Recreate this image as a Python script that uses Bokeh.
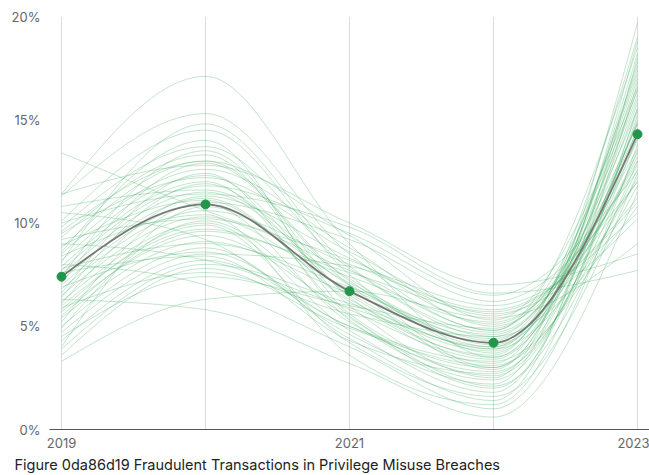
from bokeh.plotting import figure
from bokeh.models import ColumnDataSource, Range1d, FixedTicker, Title
from bokeh.embed import file_html
from bokeh.resources import INLINE

years = [2019, 2020, 2021, 2022, 2023]
mean_values = [7.4, 10.9, 6.7, 4.2, 14.3]
x_tick_years = [2019, 2021, 2023]
y_ticks = [0, 5, 10, 15, 20]
y_tick_labels = ["0%", "5%", "10%", "15%", "20%"]
title_text = "Figure 0da86d19 Fraudulent Transactions in Privilege Misuse Breaches"

series = [
    [13.4, 10.6, 8.2, 5.5, 12.0],
    [11.4, 17.1, 9.0, 3.5, 16.5],
    [11.3, 15.3, 8.5, 4.8, 18.5],
    [10.1, 14.5, 7.5, 3.0, 17.0],
    [9.8, 13.7, 7.8, 4.5, 15.5],
    [9.3, 13.3, 6.0, 2.5, 19.7],
    [8.8, 13.0, 7.2, 4.0, 14.8],
    [8.5, 12.6, 8.8, 5.0, 13.0],
    [8.2, 12.3, 6.5, 3.8, 16.0],
    [7.9, 12.0, 5.5, 2.0, 15.2],
    [7.7, 11.8, 9.5, 6.5, 12.5],
    [7.5, 11.5, 7.0, 4.2, 14.0],
    [7.2, 11.2, 6.2, 3.2, 17.8],
    [7.0, 10.9, 5.2, 2.8, 13.5],
    [6.8, 10.6, 8.0, 5.8, 11.0],
    [6.5, 10.3, 6.8, 4.6, 14.5],
    [6.2, 10.0, 4.8, 1.8, 16.8],
    [6.0, 9.7, 7.4, 5.2, 12.8],
    [5.7, 9.4, 5.8, 3.4, 15.8],
    [5.4, 9.1, 6.6, 4.4, 13.2],
    [5.0, 8.8, 4.4, 1.4, 18.0],
    [4.7, 8.5, 7.9, 6.0, 10.5],
    [4.3, 8.2, 5.0, 2.6, 14.2],
    [3.9, 8.0, 6.1, 3.9, 12.2],
    [3.3, 6.3, 6.7, 5.4, 9.0],
    [11.4, 12.8, 10.0, 7.0, 8.5],
    [10.0, 11.4, 9.8, 6.6, 7.7],
    [9.0, 8.2, 5.9, 4.0, 17.4],
    [8.0, 7.0, 4.0, 1.0, 13.8],
    [6.3, 5.8, 3.2, 0.6, 11.5],
    [10.5, 9.2, 4.6, 2.2, 18.8],
    [9.5, 12.2, 8.6, 5.6, 10.2],
    [5.2, 11.0, 9.2, 6.2, 12.0],
    [4.0, 10.8, 7.1, 4.3, 16.2],
    [8.6, 14.0, 5.6, 3.0, 15.0],
    [7.4, 13.5, 6.4, 3.6, 19.0],
    [6.6, 12.4, 5.3, 2.4, 14.6],
    [5.8, 9.9, 4.2, 1.6, 12.4],
    [9.2, 10.2, 7.7, 4.8, 16.4],
    [7.8, 9.0, 6.9, 4.1, 13.4],
    [6.9, 8.6, 5.0, 3.3, 11.8],
    [4.5, 7.4, 6.0, 4.9, 14.8],
    [10.8, 11.6, 7.3, 3.7, 17.2],
    [8.4, 10.4, 3.6, 1.2, 15.6],
    [6.1, 11.3, 8.3, 5.1, 13.6],
    [5.5, 9.6, 7.6, 5.7, 11.2],
    [7.1, 12.9, 7.0, 2.9, 18.2],
    [8.9, 11.1, 6.3, 3.5, 14.9],
    [3.6, 7.8, 4.9, 3.1, 12.6],
    [9.6, 13.0, 9.4, 5.3, 16.6],
    [4.9, 10.1, 5.4, 2.1, 13.0],
    [7.6, 8.4, 4.3, 2.7, 15.4],
    [6.4, 11.9, 6.6, 3.9, 17.6],
    [5.9, 7.6, 5.6, 4.5, 10.8],
    [8.1, 14.8, 7.9, 4.7, 14.1],
]


def _sign(v):
    return (v > 0) - (v < 0)


def monotone_segments(xs, ys):
    """d3 curveMonotoneX -> list of cubic bezier segments."""
    n = len(xs)
    t = [0.0] * n
    for i in range(1, n - 1):
        h0 = xs[i] - xs[i - 1]
        h1 = xs[i + 1] - xs[i]
        s0 = (ys[i] - ys[i - 1]) / h0
        s1 = (ys[i + 1] - ys[i]) / h1
        pp = (s0 * h1 + s1 * h0) / (h0 + h1)
        t[i] = (_sign(s0) + _sign(s1)) * min(abs(s0), abs(s1), 0.5 * abs(pp))
    h = xs[1] - xs[0]
    t[0] = (3 * (ys[1] - ys[0]) / h - t[1]) / 2
    h = xs[-1] - xs[-2]
    t[-1] = (3 * (ys[-1] - ys[-2]) / h - t[-2]) / 2
    segs = []
    for i in range(n - 1):
        dx = (xs[i + 1] - xs[i]) / 3
        segs.append((xs[i], ys[i], xs[i + 1], ys[i + 1],
                     xs[i] + dx, ys[i] + dx * t[i],
                     xs[i + 1] - dx, ys[i + 1] - dx * t[i + 1]))
    return segs


def seg_source(list_of_series):
    keys = ["x0", "y0", "x1", "y1", "cx0", "cy0", "cx1", "cy1"]
    d = {k: [] for k in keys}
    for s in list_of_series:
        for sg in monotone_segments(years, s):
            for k, v in zip(keys, sg):
                d[k].append(v)
    return ColumnDataSource(d)


FONT = "Inter"
PAD = 1 / 12

p = figure(width=649, height=475, output_backend="svg", toolbar_location=None,
           x_range=Range1d(years[0] - PAD, years[-1] + PAD), y_range=Range1d(0, 20),
           min_border_left=49, min_border_right=0, min_border_top=16, min_border_bottom=10)
p.outline_line_color = None
p.background_fill_color = "white"
p.border_fill_color = "white"

p.bezier(x0="x0", y0="y0", x1="x1", y1="y1", cx0="cx0", cy0="cy0", cx1="cx1", cy1="cy1",
         source=seg_source(series), line_color="#3daa5e", line_alpha=0.3, line_width=1)
p.bezier(x0="x0", y0="y0", x1="x1", y1="y1", cx0="cx0", cy0="cy0", cx1="cx1", cy1="cy1",
         source=seg_source([mean_values]), line_color="#777777", line_width=1.8)
p.scatter(years, mean_values, size=9, fill_color="#23954a", line_color="#23954a")

p.xgrid.ticker = FixedTicker(ticks=years)
p.xgrid.grid_line_color = "#dcdcdc"
p.xgrid.grid_line_width = 1
p.ygrid.grid_line_color = None

p.xaxis.ticker = FixedTicker(ticks=x_tick_years)
p.xaxis.axis_line_color = "#555555"
p.xaxis.axis_line_width = 1
p.xaxis.major_tick_line_color = None
p.xaxis.minor_tick_line_color = None
p.xaxis.major_tick_out = 0
p.xaxis.major_tick_in = 0
p.xaxis.minor_tick_out = 0
p.xaxis.major_label_standoff = 8
p.xaxis.major_label_text_font = FONT
p.xaxis.major_label_text_font_size = "13px"
p.xaxis.major_label_text_color = "#666666"

p.yaxis.ticker = FixedTicker(ticks=y_ticks)
p.yaxis.major_label_overrides = {t: l for t, l in zip(y_ticks, y_tick_labels)}
p.yaxis.axis_line_color = None
p.yaxis.major_tick_line_color = None
p.yaxis.minor_tick_line_color = None
p.yaxis.major_tick_out = 0
p.yaxis.major_tick_in = 0
p.yaxis.minor_tick_out = 0
p.yaxis.major_label_standoff = 9
p.yaxis.major_label_text_font = FONT
p.yaxis.major_label_text_font_size = "13px"
p.yaxis.major_label_text_color = "#666666"

t = Title(text=title_text, align="left", offset=-35, standoff=6, text_font=FONT,
          text_font_size="14.5px", text_font_style="normal", text_color="#222222")
p.add_layout(t, "below")

open("out.html", "w").write(file_html(p, INLINE))
